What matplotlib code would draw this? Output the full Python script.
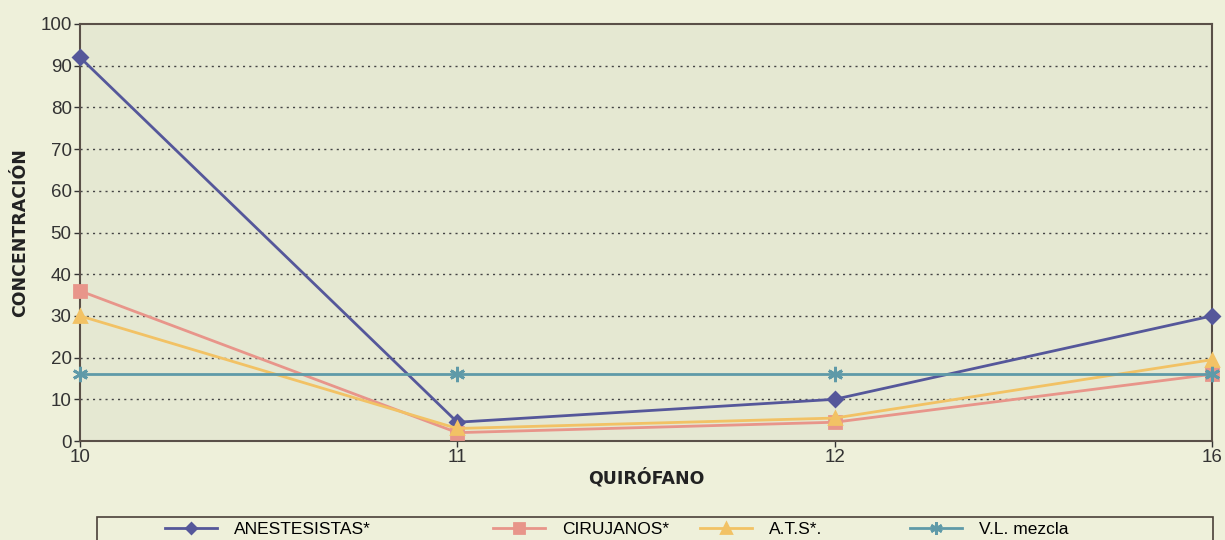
import matplotlib
matplotlib.use("Agg")
import matplotlib.pyplot as plt
from matplotlib.patches import Rectangle

plt.rcParams['font.family'] = ['Liberation Sans', 'DejaVu Sans']

# Operating rooms and measured concentrations per staff group
quirofanos = ["10", "11", "12", "16"]
anestesistas = [92, 4.5, 10, 30]
cirujanos = [36, 2, 4.5, 16]
ats = [30, 3, 5.5, 19.5]
vl_mezcla = [16, 16, 16, 16]

series = [
    ("ANESTESISTAS*", anestesistas, "#55579a", "D", 7),
    ("CIRUJANOS*", cirujanos, "#e8958a", "s", 9),
    ("A.T.S*.", ats, "#f2c265", "^", 9),
    ("V.L. mezcla", vl_mezcla, "#5f9aa8", (6, 2, 0), 11),
]

W, H = 1225, 540
fig = plt.figure(figsize=(W / 100, H / 100), dpi=100, facecolor="#eef0da")
ax = fig.add_axes([80 / W, 1 - 441 / H, (1212 - 80) / W, (441 - 24) / H],
                  facecolor="#e5e8d2")

x = list(range(len(quirofanos)))
handles = []
for label, vals, color, marker, ms in series:
    h, = ax.plot(x, vals, color=color, lw=2, marker=marker, markersize=ms,
                 markeredgecolor=color, markeredgewidth=2, label=label,
                 clip_on=False, zorder=3)
    handles.append(h)

ax.set_xlim(0, 3)
ax.set_ylim(0, 100)
ax.set_xticks(x)
ax.set_xticklabels(quirofanos)
ax.set_yticks(range(0, 101, 10))

for yv in range(10, 100, 10):
    ax.axhline(yv, color="#444444", lw=1, ls=(0, (1.5, 3)), zorder=1)

for side in ("left", "bottom", "top", "right"):
    ax.spines[side].set_color("#5a5048")
    ax.spines[side].set_linewidth(1.5)

ax.tick_params(axis="both", labelsize=13.5, colors="#333333", length=4,
               width=1, direction="out", pad=2)

ax.set_ylabel("CONCENTRACIÓN", fontsize=12.5, fontweight="bold",
              color="#222222", labelpad=8, family="DejaVu Sans")
ax.set_xlabel("QUIRÓFANO", fontsize=12.5, fontweight="bold",
              color="#222222", labelpad=1, family="DejaVu Sans")

# Legend frame along the bottom edge, with one entry per series
fig.patches.append(Rectangle((97 / W, -0.05), (1213 - 97) / W, 0.05 + (540 - 517) / H,
                             transform=fig.transFigure, facecolor="#eef0da",
                             edgecolor="#4a4038", lw=1.2, zorder=0))
entry_x = [165, 493, 700, 910]
for h, ex in zip(handles, entry_x):
    fig.legend(handles=[h], loc="center left",
               bbox_to_anchor=(ex / W, (540 - 529) / H), frameon=False,
               fontsize=12.5, handlelength=3, handletextpad=1.0,
               borderpad=0, borderaxespad=0, markerscale=0.8)

fig.savefig("out.png", dpi=100, facecolor=fig.get_facecolor())
